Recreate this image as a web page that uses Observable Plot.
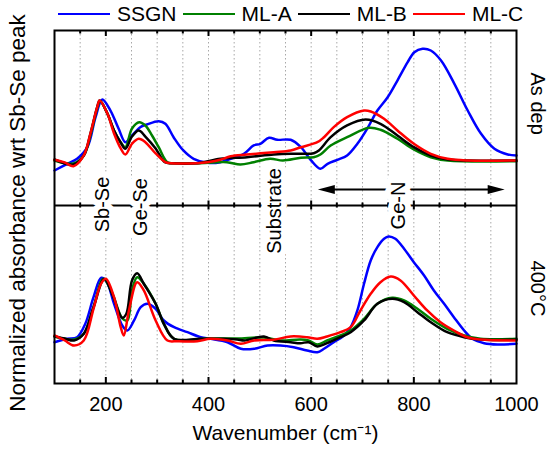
<!DOCTYPE html>
<html><head><meta charset="utf-8">
<script src="https://cdn.jsdelivr.net/npm/d3@7"></script>
<script src="https://cdn.jsdelivr.net/npm/@observablehq/plot@0.6"></script>
<style>
body{margin:0;background:#fff;}
#wrap{position:relative;width:554px;height:451px;font-family:'Liberation Sans',Arial,sans-serif;}
#legend{position:absolute;left:58px;top:3px;display:flex;align-items:center;font-size:21px;line-height:22px;color:#000;z-index:2}
.sw{display:inline-block;width:52px;height:2.6px;margin-right:7px}
.lab{margin-right:6px}
</style></head><body>
<div id="wrap"><div id="legend"></div><div id="chart"></div></div>
<script>
// ---------- data ----------
const seriesNames = ["SSGN", "ML-A", "ML-B", "ML-C"];
const seriesColors = ["#0000ff", "#008000", "#000000", "#ff0000"];
const panelNames = ["As dep", "400°C"];
const majorTicks = [200, 400, 600, 800, 1000];
const minorTicks = [150, 250, 300, 350, 450, 500, 550, 650, 700, 750, 850, 900, 950];
const gridTicks = [150, 200, 250, 300, 350, 400, 450, 500, 550, 600, 650, 700, 750, 800, 850, 900, 950];
const bandLabels = ["Sb-Se", "Ge-Se", "Substrate", "Ge-N"];
const bandCenters = [193, 268, 528, 770];
const geNArrow = [613, 977];

// normalized absorbance (Sb-Se peak ~ 1), as deposited: [wavenumber, value]
const ssgnAsDep = [[100,-0.131],[125,-0.021],[144,0.061],[164,0.251],[180,0.743],[193,1.033],[209,0.852],[225,0.552],[238,0.333],[248,0.415],[267,0.579],[280,0.623],[303,0.677],[316,0.634],[332,0.415],[351,0.197],[371,0.061],[398,-0.005],[423,0.005],[449,0.077],[469,0.143],[488,0.279],[501,0.307],[518,0.405],[534,0.372],[560,0.372],[580,0.251],[599,0.044],[618,-0.103],[632,-0.021],[651,0.044],[670,0.115],[690,0.307],[709,0.552],[729,0.852],[749,1.070],[768,1.344],[788,1.644],[801,1.808],[817,1.864],[833,1.836],[853,1.672],[879,1.290],[905,0.852],[931,0.470],[957,0.225],[983,0.131],[1000,0.115]];
const mlaAsDep = [[100,0.033],[137,-0.016],[157,0.115],[170,0.443],[183,0.885],[189,1.008],[203,0.803],[216,0.525],[229,0.328],[238,0.251],[251,0.557],[265,0.661],[277,0.607],[290,0.443],[303,0.251],[320,0.005],[335,-0.011],[378,-0.011],[436,0.005],[462,-0.033],[488,0.005],[520,0.061],[545,0.033],[580,0.077],[605,0.087],[618,0.131],[638,0.279],[670,0.415],[713,0.569],[735,0.536],[768,0.389],[800,0.213],[833,0.087],[866,0.033],[1000,0.021]];
const mlbAsDep = [[100,0.049],[137,-0.033],[157,0.115],[170,0.475],[183,0.902],[188,1.016],[203,0.803],[216,0.525],[229,0.328],[238,0.225],[251,0.426],[264,0.525],[277,0.426],[297,0.230],[315,0.005],[330,-0.011],[378,-0.011],[423,0.061],[475,0.087],[527,0.131],[560,0.143],[580,0.143],[605,0.152],[615,0.197],[638,0.415],[670,0.607],[706,0.705],[735,0.634],[768,0.443],[800,0.251],[833,0.115],[866,0.049],[905,0.033],[1000,0.033]];
const mlcAsDep = [[100,0.044],[120,0.0],[137,-0.061],[157,0.115],[170,0.475],[183,0.902],[188,1.016],[203,0.803],[216,0.475],[229,0.230],[238,0.131],[251,0.307],[264,0.389],[277,0.333],[297,0.148],[316,0.005],[326,-0.011],[378,-0.011],[398,0.005],[423,0.044],[443,0.103],[475,0.131],[527,0.169],[560,0.197],[580,0.251],[612,0.333],[625,0.415],[644,0.579],[670,0.743],[703,0.852],[716,0.836],[742,0.716],[768,0.525],[800,0.307],[833,0.143],[866,0.061],[905,0.033],[1000,0.033]];

// normalized absorbance after 400°C anneal
const ssgn400 = [[100,-0.061],[125,-0.005],[144,0.021],[160,0.241],[176,0.677],[191,0.995],[202,0.923],[216,0.569],[232,0.213],[242,0.131],[255,0.295],[268,0.513],[281,0.569],[297,0.487],[313,0.295],[333,0.185],[359,0.103],[385,0.021],[404,-0.005],[437,-0.061],[463,-0.169],[489,-0.169],[515,-0.115],[540,-0.115],[566,-0.143],[592,-0.197],[612,-0.225],[625,-0.169],[644,-0.061],[664,0.049],[677,0.185],[690,0.459],[703,0.897],[716,1.279],[729,1.497],[742,1.634],[751,1.672],[764,1.634],[781,1.470],[800,1.251],[820,1.033],[839,0.787],[859,0.569],[878,0.349],[898,0.131],[914,-0.005],[937,-0.077],[963,-0.098],[1000,-0.087]];
const mla400 = [[100,0.033],[138,-0.016],[157,0.077],[176,0.513],[195,0.979],[212,0.754],[232,0.328],[242,0.295],[251,0.787],[261,1.005],[274,0.897],[297,0.569],[313,0.241],[333,-0.005],[400,0.0],[456,0.0],[508,0.016],[540,-0.033],[579,-0.016],[595,-0.033],[612,-0.098],[631,-0.033],[657,0.049],[677,0.131],[703,0.323],[729,0.569],[758,0.667],[781,0.623],[807,0.487],[833,0.323],[865,0.159],[898,0.049],[930,-0.005],[1000,-0.005]];
const mlb400 = [[100,0.033],[120,0.0],[138,-0.033],[157,0.077],[176,0.513],[197,0.979],[212,0.733],[232,0.339],[240,0.405],[251,0.951],[261,1.070],[274,0.897],[297,0.569],[313,0.241],[333,-0.005],[384,-0.005],[430,-0.005],[456,-0.016],[470,-0.033],[508,0.033],[527,-0.033],[560,-0.061],[579,-0.077],[595,-0.061],[612,-0.131],[631,-0.077],[657,0.021],[677,0.103],[703,0.295],[729,0.569],[758,0.651],[781,0.595],[807,0.431],[833,0.267],[865,0.103],[898,0.021],[930,-0.016],[1000,-0.021]];
const mlc400 = [[100,0.049],[120,-0.033],[138,-0.115],[157,-0.033],[176,0.487],[190,0.885],[200,0.979],[216,0.677],[229,0.185],[235,0.049],[245,0.459],[261,0.923],[274,0.787],[297,0.295],[320,-0.033],[340,-0.044],[378,-0.044],[404,-0.005],[437,-0.033],[463,-0.087],[489,-0.033],[527,-0.021],[560,0.033],[592,0.021],[612,-0.005],[631,0.033],[657,0.103],[677,0.185],[696,0.459],[716,0.733],[735,0.923],[755,1.016],[774,0.951],[800,0.705],[826,0.459],[852,0.267],[878,0.131],[904,0.021],[930,-0.016],[1000,-0.033]];

// ---------- layout ----------
const W = 554, H = 451, mL = 54, mR = 38, mT = 30, mB = 68;
const frameH = H - mT - mB;
const yDomain = [-0.738, 5.049];
const topOffset = 2.885;     // vertical offset of the "As dep" panel
const midLevel = 2.180;      // divider between panels
const arrowLevel = 2.443;
const bandLevels = [2.197, 2.156, 2.090, 2.180];
const panelLabelLevels = [3.85, 0.82];
const font = "'Liberation Sans', Arial, sans-serif";

const toRows = (pts, series, panel) =>
  pts.map(([w, v]) => ({series, panel, w, y: v + (panel === panelNames[0] ? topOffset : 0)}));
const rows = [
  ...toRows(ssgnAsDep, "SSGN", panelNames[0]),
  ...toRows(mlaAsDep, "ML-A", panelNames[0]),
  ...toRows(mlbAsDep, "ML-B", panelNames[0]),
  ...toRows(mlcAsDep, "ML-C", panelNames[0]),
  ...toRows(ssgn400, "SSGN", panelNames[1]),
  ...toRows(mla400, "ML-A", panelNames[1]),
  ...toRows(mlb400, "ML-B", panelNames[1]),
  ...toRows(mlc400, "ML-C", panelNames[1])
];

const majorInner = majorTicks.filter(d => d < 1000);
const arrowLeft = {draw(c) { c.moveTo(0, 0); c.lineTo(17, -4.5); c.lineTo(17, 4.5); c.closePath(); }};
const arrowRight = {draw(c) { c.moveTo(0, 0); c.lineTo(-17, -4.5); c.lineTo(-17, 4.5); c.closePath(); }};

const chart = Plot.plot({
  width: W, height: H,
  marginLeft: mL, marginRight: mR, marginTop: mT, marginBottom: mB,
  x: {domain: [100, 1000], axis: null},
  y: {domain: yDomain, axis: null},
  color: {domain: seriesNames, range: seriesColors},
  style: {fontFamily: font, fontSize: "20px", background: "white", color: "black"},
  marks: [
    Plot.ruleX(gridTicks, {stroke: "#a8a8a8", strokeWidth: 1, strokeDasharray: "1.5,2.5"}),
    Plot.line(rows, {x: "w", y: "y", z: d => d.panel + "|" + d.series, stroke: "series", strokeWidth: 2.5, curve: "catmull-rom"}),
    Plot.frame({stroke: "black", strokeWidth: 2}),
    Plot.ruleY([midLevel], {stroke: "black", strokeWidth: 2}),
    // top ticks
    Plot.ruleX(majorInner, {insetBottom: frameH - 6, strokeWidth: 2}),
    Plot.ruleX(minorTicks, {insetBottom: frameH - 3.5, strokeWidth: 2}),
    // bottom ticks
    Plot.ruleX(majorInner, {insetTop: frameH - 6, strokeWidth: 2}),
    Plot.ruleX(minorTicks, {insetTop: frameH - 3.5, strokeWidth: 2}),
    // divider ticks
    Plot.ruleX(majorInner, {y1: () => midLevel, y2: () => midLevel, insetTop: -4.5, insetBottom: -4.5, strokeWidth: 2}),
    Plot.ruleX(minorTicks, {y1: () => midLevel, y2: () => midLevel, insetTop: -2.5, insetBottom: -2.5, strokeWidth: 2}),
    // Ge-N arrow
    Plot.ruleY([{y: arrowLevel, x1: geNArrow[0], x2: geNArrow[1]}], {y: "y", x1: "x1", x2: "x2", insetLeft: 8, insetRight: 8, strokeWidth: 2}),
    Plot.dot([geNArrow[0]], {x: d => d, y: () => arrowLevel, symbol: arrowLeft, fill: "black", stroke: "none"}),
    Plot.dot([geNArrow[1]], {x: d => d, y: () => arrowLevel, symbol: arrowRight, fill: "black", stroke: "none"}),
    // band labels with white halo
    Plot.text(bandLabels, {x: (d, i) => bandCenters[i], y: (d, i) => bandLevels[i], text: d => d, rotate: -90, fontSize: 20,
      fill: "black", stroke: "white", strokeWidth: 12, paintOrder: "stroke", strokeLinejoin: "round",
      textAnchor: "middle", lineAnchor: "middle"}),
    // panel labels
    Plot.text(panelNames, {y: (d, i) => panelLabelLevels[i], text: d => d, frameAnchor: "right", dx: 21, rotate: 90,
      fontSize: 20, textAnchor: "middle", lineAnchor: "middle", fill: "black"}),
    // x tick labels
    Plot.text(majorTicks, {x: d => d, text: d => String(d), frameAnchor: "bottom", dy: 21, fontSize: 20,
      textAnchor: "middle", lineAnchor: "middle", fill: "black"}),
    // axis titles
    Plot.text(["Wavenumber (cm⁻¹)"], {frameAnchor: "bottom", dy: 50, fontSize: 21, textAnchor: "middle", lineAnchor: "middle", fill: "black"}),
    Plot.text(["Normalized absorbance wrt Sb-Se peak"], {frameAnchor: "left", dx: -37, dy: 6, rotate: -90, fontSize: 22.5,
      textAnchor: "middle", lineAnchor: "middle", fill: "black"})
  ]
});
document.getElementById("chart").appendChild(chart);

// legend
const legend = document.getElementById("legend");
seriesNames.forEach((name, i) => {
  const sw = document.createElement("span");
  sw.className = "sw";
  sw.style.background = seriesColors[i];
  const lab = document.createElement("span");
  lab.className = "lab";
  lab.textContent = name;
  legend.appendChild(sw);
  legend.appendChild(lab);
});
</script></body></html>
